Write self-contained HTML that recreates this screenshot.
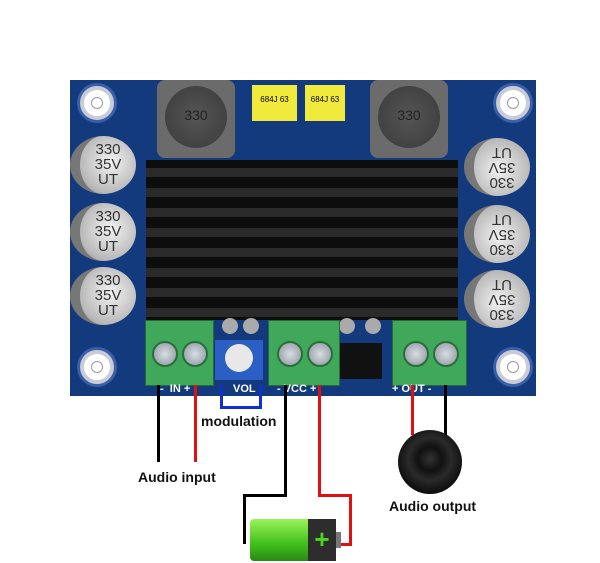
<!DOCTYPE html>
<html><head><style>
body{margin:0;width:600px;height:563px;background:#fff;position:relative;overflow:hidden;font-family:"Liberation Sans",sans-serif}
.a{position:absolute}
.hole{position:absolute;width:26px;height:26px;border-radius:50%;background:#fff;border:4px solid #c9ccd4;box-shadow:0 0 0 3px #3b5fa8}
.hole::after{content:"";position:absolute;left:7px;top:7px;width:12px;height:12px;border-radius:50%;background:#fff;border:1px solid #999;box-sizing:border-box}
.cap{position:absolute;width:66px;height:58px;border-radius:50%;background:radial-gradient(circle at 55% 45%,#f2f2f2,#b8b8b8 70%,#777);font-size:15px;line-height:15px;color:#333;text-align:center;box-sizing:border-box;padding-top:6px}
.capL{border-left:10px solid #777}
.capR{border-right:10px solid #777;transform:rotate(180deg)}
.term{position:absolute;background:#3fa85a;border:1px solid #256b35}
.screw{position:absolute;width:22px;height:22px;border-radius:50%;background:radial-gradient(#d8dde4,#8a929c);top:20px;border:2px solid #2a6e3a}
.fin{position:absolute;left:0;width:100%;height:9px;background:#2a2a2a}
.lbl{position:absolute;color:#fff;font-size:11px;font-weight:bold}
.w{position:absolute}
</style></head><body>
<!-- board -->
<div class="a" style="left:70px;top:80px;width:466px;height:316px;background:#143a7e"></div>
<div class="hole" style="left:80px;top:86px"></div>
<div class="hole" style="left:496px;top:86px"></div>
<div class="hole" style="left:80px;top:350px"></div>
<div class="hole" style="left:496px;top:350px"></div>
<!-- inductors -->
<div class="a" style="left:157px;top:80px;width:78px;height:78px;background:#6b6b6b;border-radius:8px"></div>
<div class="a" style="left:165px;top:86px;width:62px;height:62px;background:radial-gradient(#555,#3a3a3a);border-radius:50%;color:#222;font-size:14px;text-align:center;line-height:58px">330</div>
<div class="a" style="left:370px;top:80px;width:78px;height:78px;background:#6b6b6b;border-radius:8px"></div>
<div class="a" style="left:378px;top:86px;width:62px;height:62px;background:radial-gradient(#555,#3a3a3a);border-radius:50%;color:#222;font-size:14px;text-align:center;line-height:58px">330</div>
<!-- yellow caps -->
<div class="a" style="left:252px;top:85px;width:45px;height:36px;background:#f0ea3c;font-size:8px;text-align:center;line-height:30px">684J 63</div>
<div class="a" style="left:305px;top:85px;width:40px;height:36px;background:#f0ea3c;font-size:8px;text-align:center;line-height:30px">684J 63</div>
<!-- heatsink -->
<div class="a" style="left:146px;top:160px;width:312px;height:160px;background:#0d0d0d">
<div class="fin" style="top:8px"></div><div class="fin" style="top:28px"></div><div class="fin" style="top:48px"></div><div class="fin" style="top:68px"></div><div class="fin" style="top:88px"></div><div class="fin" style="top:108px"></div><div class="fin" style="top:128px"></div><div class="fin" style="top:148px"></div>
</div>
<!-- caps -->
<div class="cap capL" style="left:70px;top:136px">330<br>35V<br>UT</div>
<div class="cap capL" style="left:70px;top:203px">330<br>35V<br>UT</div>
<div class="cap capL" style="left:70px;top:267px">330<br>35V<br>UT</div>
<div class="cap capR" style="left:464px;top:138px">330<br>35V<br>UT</div>
<div class="cap capR" style="left:464px;top:205px">330<br>35V<br>UT</div>
<div class="cap capR" style="left:464px;top:270px">330<br>35V<br>UT</div>
<!-- small caps -->
<div class="a" style="left:222px;top:318px;width:16px;height:16px;border-radius:50%;background:#aaa"></div>
<div class="a" style="left:243px;top:318px;width:16px;height:16px;border-radius:50%;background:#aaa"></div>
<div class="a" style="left:339px;top:318px;width:16px;height:16px;border-radius:50%;background:#aaa"></div>
<div class="a" style="left:365px;top:318px;width:16px;height:16px;border-radius:50%;background:#aaa"></div>
<div class="a" style="left:340px;top:343px;width:42px;height:36px;background:#111"></div>
<!-- terminals -->
<div class="term" style="left:145px;top:320px;width:67px;height:64px"><div class="screw" style="left:6px"></div><div class="screw" style="left:36px"></div></div>
<div class="term" style="left:268px;top:320px;width:70px;height:64px"><div class="screw" style="left:8px"></div><div class="screw" style="left:38px"></div></div>
<div class="term" style="left:392px;top:320px;width:73px;height:64px"><div class="screw" style="left:10px"></div><div class="screw" style="left:40px"></div></div>
<!-- pot -->
<div class="a" style="left:215px;top:340px;width:48px;height:40px;background:#2b5fc4"></div>
<div class="a" style="left:225px;top:344px;width:28px;height:28px;border-radius:50%;background:#e8e8e8"></div>
<div class="lbl" style="left:160px;top:383px">-&nbsp; IN +</div>
<div class="lbl" style="left:233px;top:383px">VOL</div>
<div class="lbl" style="left:277px;top:383px">- VCC +</div>
<div class="lbl" style="left:392px;top:383px">+ OUT -</div>
<!-- wires -->
<div class="w" style="left:157px;top:385px;width:3px;height:77px;background:#000"></div>
<div class="w" style="left:194px;top:385px;width:3px;height:77px;background:#e01010"></div>
<div class="w" style="left:220px;top:385px;width:42px;height:24px;border:3px solid #1030d0;border-top:none;box-sizing:border-box"></div>
<div class="w" style="left:284px;top:385px;width:3px;height:112px;background:#000"></div>
<div class="w" style="left:243px;top:494px;width:44px;height:3px;background:#000"></div>
<div class="w" style="left:243px;top:494px;width:3px;height:50px;background:#000"></div>
<div class="w" style="left:318px;top:385px;width:3px;height:112px;background:#e01010"></div>
<div class="w" style="left:318px;top:494px;width:34px;height:3px;background:#e01010"></div>
<div class="w" style="left:349px;top:494px;width:3px;height:52px;background:#e01010"></div>
<div class="w" style="left:338px;top:543px;width:14px;height:3px;background:#e01010"></div>
<div class="w" style="left:411px;top:385px;width:3px;height:50px;background:#e01010"></div>
<div class="w" style="left:444px;top:385px;width:3px;height:50px;background:#000"></div>
<!-- speaker -->
<div class="a" style="left:398px;top:430px;width:64px;height:64px;border-radius:50%;background:radial-gradient(circle at 50% 45%,#333 0,#111 25%,#2a2a2a 45%,#0a0a0a 75%,#333 100%)"></div>
<!-- battery -->
<div class="a" style="left:250px;top:519px;width:58px;height:42px;background:linear-gradient(#9cf25a,#3fbf1c 60%,#2a8a12);border-radius:4px 0 0 4px"></div>
<div class="a" style="left:308px;top:519px;width:28px;height:42px;background:#2d2d2d"></div>
<div class="a" style="left:336px;top:532px;width:5px;height:16px;background:#777"></div>
<div class="a" style="left:310px;top:527px;width:24px;height:24px;color:#4ed21e;font-size:26px;font-weight:bold;line-height:24px;text-align:center">+</div>
<!-- text -->
<div class="a" style="left:201px;top:413px;font-size:14px;font-weight:bold;color:#111">modulation</div>
<div class="a" style="left:138px;top:469px;font-size:14px;font-weight:bold;color:#111">Audio input</div>
<div class="a" style="left:389px;top:498px;font-size:14px;font-weight:bold;color:#111">Audio output</div>
</body></html>
